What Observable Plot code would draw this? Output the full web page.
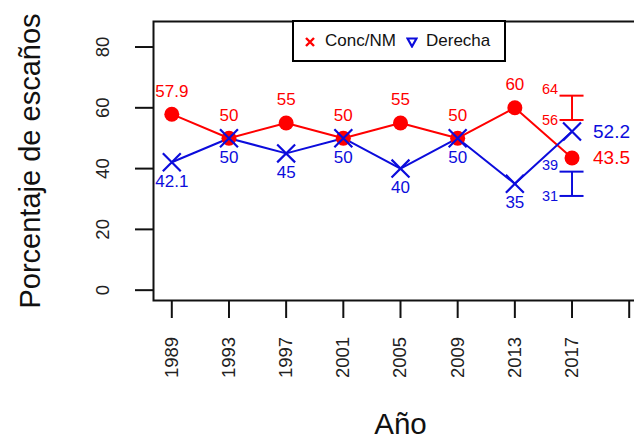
<!DOCTYPE html>
<html><head><meta charset="utf-8">
<script src="https://cdn.jsdelivr.net/npm/d3@7"></script>
<script src="https://cdn.jsdelivr.net/npm/@observablehq/plot@0.6"></script>
<style>
body{margin:0;background:#fff;font-family:"Liberation Sans",Arial,sans-serif;}
#wrap{position:relative;width:634px;height:439px;overflow:hidden;}
#legend{position:absolute;left:292px;top:20px;width:210px;height:38px;border:2px solid #000;background:#fff;font-size:17px;color:#111;}
#legend span,#legend svg{position:absolute;}
</style></head><body><div id="wrap"></div>
<script>
const years = [1989, 1993, 1997, 2001, 2005, 2009, 2013, 2017];
const concNM = [57.9, 50, 55, 50, 55, 50, 60, 43.5];
const derecha = [42.1, 50, 45, 50, 40, 50, 35, 52.2];
const rangeYear = 2017;
const concRange = [56, 64];
const derechaRange = [31, 39];
const xTicks = [1989, 1993, 1997, 2001, 2005, 2009, 2013, 2017, 2021];
const xLabels = [1989, 1993, 1997, 2001, 2005, 2009, 2013, 2017];
const yTicks = [0, 20, 40, 60, 80];
const seriesNames = ["Conc/NM", "Derecha"];

const RED = "#ff0000", BLUE = "#0c0cdc";
const conc = years.map((y, i) => ({year: y, v: concNM[i]}));
const der = years.map((y, i) => ({year: y, v: derecha[i]}));
const concHist = conc.slice(0, -1), derHist = der.slice(0, -1);
const concLast = conc.slice(-1), derLast = der.slice(-1);
const capHalf = 0.84;
const ranges = [
  {year: rangeYear, lo: concRange[0], hi: concRange[1], color: RED},
  {year: rangeYear, lo: derechaRange[0], hi: derechaRange[1], color: BLUE}
];
const F = "Liberation Sans";

const plot = Plot.plot({
  width: 660, height: 439,
  marginLeft: 153, marginRight: 13, marginTop: 21, marginBottom: 139,
  style: {fontFamily: F, background: "#fff", maxWidth: "none"},
  x: {domain: [1987.72, 2022.28], axis: null},
  y: {domain: [-3.4, 88.4], axis: null},
  marks: [
    Plot.axisX({ticks: xTicks, tickSize: 18, tickFormat: () => "", strokeWidth: 2, label: null, stroke: "#111"}),
    Plot.axisY({ticks: yTicks, tickSize: 18, tickFormat: () => "", strokeWidth: 2, label: null, stroke: "#111"}),
    Plot.text(xLabels, {x: d => d, text: d => String(d), frameAnchor: "bottom", dy: 57, rotate: -90, textAnchor: "middle", lineAnchor: "middle", fontSize: 18.5, fill: "#222"}),
    Plot.text(yTicks, {y: d => d, text: d => String(d), frameAnchor: "left", dx: -50, rotate: -90, textAnchor: "middle", lineAnchor: "middle", fontSize: 18.5, fill: "#222"}),
    Plot.text(["Porcentaje de escaños"], {frameAnchor: "left", dx: -123, rotate: -90, textAnchor: "middle", lineAnchor: "middle", fontSize: 29, fill: "#111"}),
    Plot.text(["Año"], {frameAnchor: "bottom", dy: 124, textAnchor: "middle", lineAnchor: "middle", fontSize: 29.5, fill: "#111"}),
    Plot.line(conc, {x: "year", y: "v", stroke: RED, strokeWidth: 2}),
    Plot.line(der, {x: "year", y: "v", stroke: BLUE, strokeWidth: 2}),
    Plot.dot(conc, {x: "year", y: "v", r: 7.5, fill: RED, stroke: "none"}),
    Plot.dot(der, {x: "year", y: "v", r: 8.2, symbol: "times", stroke: BLUE, strokeWidth: 2.2}),
    Plot.text(concHist, {x: "year", y: "v", text: d => String(d.v), dy: -23, fill: RED, fontSize: 17}),
    Plot.text(derHist, {x: "year", y: "v", text: d => String(d.v), dy: 19, fill: BLUE, fontSize: 17}),
    Plot.text(concLast, {x: "year", y: "v", text: d => String(d.v), dx: 21, textAnchor: "start", fill: RED, fontSize: 19}),
    Plot.text(derLast, {x: "year", y: "v", text: d => String(d.v), dx: 21, textAnchor: "start", fill: BLUE, fontSize: 19}),
    Plot.ruleX(ranges, {x: "year", y1: "lo", y2: "hi", stroke: d => d.color, strokeWidth: 2}),
    Plot.ruleY(ranges, {y: "lo", x1: d => d.year - capHalf, x2: d => d.year + capHalf, stroke: d => d.color, strokeWidth: 2}),
    Plot.ruleY(ranges, {y: "hi", x1: d => d.year - capHalf, x2: d => d.year + capHalf, stroke: d => d.color, strokeWidth: 2}),
    Plot.text(ranges, {x: "year", y: "hi", text: d => String(d.hi), dx: -14, dy: -6, textAnchor: "end", fill: d => d.color, fontSize: 14.5}),
    Plot.text(ranges, {x: "year", y: "lo", text: d => String(d.lo), dx: -14, textAnchor: "end", fill: d => d.color, fontSize: 14.5}),
    Plot.frame({stroke: "#111", strokeWidth: 2})
  ]
});
const wrap = document.getElementById("wrap");
wrap.appendChild(plot);
plot.style.position = "absolute"; plot.style.left = "0"; plot.style.top = "0";
plot.style.maxWidth = "none";

const lg = document.createElement("div");
lg.id = "legend";
lg.innerHTML = `
<svg style="left:11px;top:15px" width="10" height="10"><path d="M1,1L9,9M9,1L1,9" stroke="${RED}" stroke-width="2.4"/></svg>
<span style="left:31px;top:9px">${seriesNames[0]}</span>
<svg style="left:112px;top:15px" width="12" height="11"><path d="M1.5,1.5H10.5L6,9.5Z" fill="none" stroke="${BLUE}" stroke-width="2.2"/></svg>
<span style="left:132px;top:9px">${seriesNames[1]}</span>`;
wrap.appendChild(lg);
</script>
</body></html>
